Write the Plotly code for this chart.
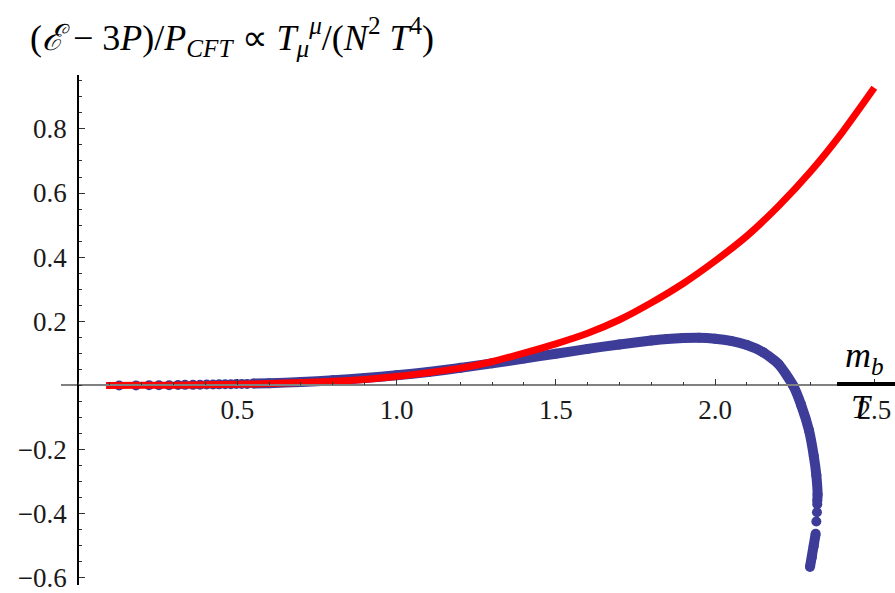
import plotly.graph_objects as go

# Red curve (line)
red_x = [0.088, 0.2, 0.3, 0.4, 0.5, 0.6, 0.7, 0.8, 0.9, 1.0, 1.1, 1.2, 1.3, 1.4, 1.5, 1.6, 1.7, 1.8,
         1.9, 2.0, 2.1, 2.2, 2.3, 2.4, 2.5]
red_y = [0.0, 0.0005, 0.001, 0.002, 0.004, 0.006, 0.009, 0.013, 0.019, 0.028, 0.040, 0.054, 0.074,
         0.101, 0.130, 0.163, 0.205, 0.258, 0.318, 0.388, 0.466, 0.560, 0.667, 0.790, 0.928]

# Blue points: sparse dots at small x
blue_dots_x = [0.129, 0.182, 0.223, 0.254, 0.286, 0.314, 0.336, 0.361, 0.383, 0.404, 0.424, 0.443,
               0.462, 0.480, 0.497, 0.514, 0.531]
blue_dots_y = [0.0, 0.0, 0.0005, 0.001, 0.001, 0.0015, 0.002, 0.002, 0.0025, 0.003, 0.003, 0.0035,
               0.004, 0.004, 0.0045, 0.005, 0.005]

# Blue dense part
blue_x = [0.55, 0.6, 0.7, 0.8, 0.9, 1.0, 1.1, 1.2, 1.3, 1.4, 1.5, 1.6, 1.7, 1.8, 1.85, 1.9, 1.95,
          2.0, 2.05, 2.1, 2.15, 2.2, 2.245, 2.27, 2.295, 2.31, 2.318, 2.322, 2.321]
blue_y = [0.006, 0.007, 0.011, 0.016, 0.023, 0.032, 0.042, 0.055, 0.069, 0.084, 0.099, 0.114, 0.128,
          0.140, 0.145, 0.148, 0.149, 0.146, 0.139, 0.126, 0.104, 0.066, 0.0, -0.06, -0.14, -0.22,
          -0.28, -0.34, -0.36]

# Blue tail: separate dots then a short dense segment
blue_tail_x = [2.321, 2.320, 2.318]
blue_tail_y = [-0.37, -0.395, -0.424]
blue_seg_x = [2.316, 2.310, 2.304, 2.298]
blue_seg_y = [-0.462, -0.50, -0.535, -0.566]

x_ticks = [0.5, 1.0, 1.5, 2.0, 2.5]
x_labels = ["0.5", "1.0", "1.5", "2.0", "2.5"]
y_ticks = [-0.6, -0.4, -0.2, 0.2, 0.4, 0.6, 0.8]
y_labels = ["\u22120.6", "\u22120.4", "\u22120.2", "0.2", "0.4", "0.6", "0.8"]

BLUE = "#3d3d99"
RED = "#ff0000"
FONT = "Liberation Serif"

fig = go.Figure()
fig.add_trace(go.Scatter(x=blue_dots_x, y=blue_dots_y, mode="markers",
                         marker=dict(color=BLUE, size=10), hoverinfo="skip"))
fig.add_trace(go.Scatter(x=blue_x, y=blue_y, mode="lines+markers",
                         line=dict(color=BLUE, width=10, shape="spline", smoothing=0.6),
                         marker=dict(color=BLUE, size=10), hoverinfo="skip"))
fig.add_trace(go.Scatter(x=blue_tail_x, y=blue_tail_y, mode="markers",
                         marker=dict(color=BLUE, size=10), hoverinfo="skip"))
fig.add_trace(go.Scatter(x=blue_seg_x, y=blue_seg_y, mode="lines+markers",
                         line=dict(color=BLUE, width=10),
                         marker=dict(color=BLUE, size=10), hoverinfo="skip"))
fig.add_trace(go.Scatter(x=red_x, y=red_y, mode="lines",
                         line=dict(color=RED, width=7, shape="spline", smoothing=0.6),
                         hoverinfo="skip"))

xr = [-0.0534, 2.565]
yr = [-0.622, 0.968]

fig.update_layout(
    width=895, height=593,
    margin=dict(l=61, r=0, t=75, b=6),
    paper_bgcolor="white", plot_bgcolor="white",
    showlegend=False,
    font=dict(family=FONT, size=27, color="#1a1a1a"),
    title=dict(
        text="(<i>\u2130</i> \u2212 3<i>P</i>)/<i>P</i><sub><i>CFT</i></sub> \u221d "
             "<i>T</i><sub><i>\u03bc</i></sub><sup><i>\u03bc</i></sup>/(<i>N</i><sup>2</sup> <i>T</i><sup>4</sup>)",
        xref="container", yref="container", x=30 / 895, xanchor="left",
        y=1 - 37 / 593, yanchor="middle",
        font=dict(family=FONT, size=36, color="black"),
    ),
    xaxis=dict(
        range=xr, anchor="free", position=(0 - yr[0]) / (yr[1] - yr[0]),
        showgrid=False, zeroline=False,
        showline=True, linecolor="#808080", linewidth=1.5,
        tickmode="array", tickvals=x_ticks, ticktext=x_labels,
        ticks="inside", ticklen=6, tickwidth=1.2, tickcolor="#333",
        minor=dict(tickmode="linear", tick0=0, dtick=0.1, ticks="inside",
                   ticklen=3, tickwidth=1, tickcolor="#333", showgrid=False),
        tickfont=dict(family=FONT, size=27, color="#1a1a1a"),
        ticklabeloverflow="allow",
        layer="above traces",
    ),
    yaxis=dict(
        range=yr, anchor="free", position=(0 - xr[0]) / (xr[1] - xr[0]),
        showgrid=False, zeroline=False,
        showline=True, linecolor="black", linewidth=1.5,
        tickmode="array", tickvals=y_ticks, ticktext=y_labels,
        ticks="inside", ticklen=6, tickwidth=1.2, tickcolor="#333",
        minor=dict(tickmode="linear", tick0=0, dtick=0.05, ticks="inside",
                   ticklen=3.5, tickwidth=1, tickcolor="#333", showgrid=False),
        tickfont=dict(family=FONT, size=27, color="#1a1a1a"),
        ticklabelstandoff=5,
        ticklabeloverflow="allow",
        layer="above traces",
    ),
)

# axis label m_b / T as a fraction at the right end of the x axis
fig.add_shape(type="line", xref="x", yref="y", x0=2.383, x1=2.57, y0=0.005, y1=0.005,
              line=dict(color="black", width=4))
fig.add_annotation(xref="x", yref="y", x=2.47, y=0.012, xanchor="center", yanchor="bottom",
                   text="<i>m</i><sub><i>b</i></sub>", showarrow=False,
                   font=dict(family=FONT, size=36, color="black"))
fig.add_annotation(xref="x", yref="y", x=2.46, y=-0.002, xanchor="center", yanchor="top",
                   text="<i>T</i>", showarrow=False,
                   font=dict(family=FONT, size=34, color="black"))

fig.write_html("out.html")
